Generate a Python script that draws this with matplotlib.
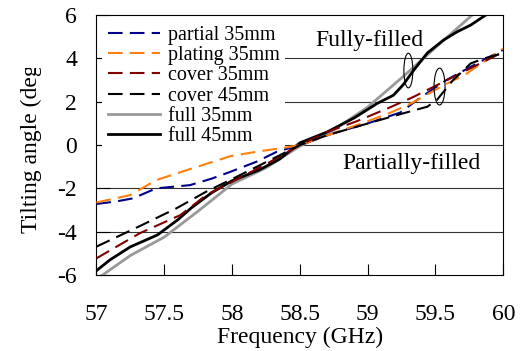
import numpy as np
import matplotlib
matplotlib.use("Agg")
import matplotlib.pyplot as plt
from matplotlib.patches import Ellipse, Rectangle

plt.rcParams['font.family'] = ['Liberation Serif', 'DejaVu Serif']

# -------------------------------------------------------------------------
# DATA
# -------------------------------------------------------------------------
f_partial35 = [57.0, 57.15, 57.27, 57.44, 57.69, 57.85, 57.99, 58.18, 58.33, 58.5,
               58.75, 59.0, 59.24, 59.38, 59.58, 59.8, 60.0]
v_partial35 = [-2.72, -2.6, -2.46, -2.0, -1.85, -1.55, -1.23, -0.77, -0.31, 0.0,
               0.55, 1.0, 1.5, 2.15, 3.0, 3.75, 4.4]

f_plating35 = [57.0, 57.25, 57.44, 57.67, 57.99, 58.18, 58.43, 58.5, 58.75, 59.0,
               59.17, 59.32, 59.54, 59.73, 60.0]
v_plating35 = [-2.65, -2.31, -1.62, -1.15, -0.51, -0.31, -0.08, 0.0, 0.55, 1.1,
               1.5, 1.92, 2.69, 3.3, 4.46]

f_cover35 = [57.0, 57.32, 57.62, 57.81, 58.0, 58.26, 58.5, 58.7, 58.92, 59.15,
             59.34, 59.56, 59.83, 60.0]
v_cover35 = [-5.23, -4.07, -3.23, -2.31, -1.7, -0.85, 0.0, 0.6, 1.1, 1.7,
             2.23, 2.92, 3.77, 4.3]

f_cover45 = [57.0, 57.32, 57.59, 57.81, 58.01, 58.33, 58.5, 58.7, 58.92, 59.17,
             59.34, 59.44, 59.51, 59.63, 59.76, 59.86, 60.0]
v_cover45 = [-4.69, -3.74, -2.92, -2.15, -1.54, -0.54, 0.0, 0.45, 0.85, 1.3,
             1.6, 1.77, 2.08, 3.0, 3.77, 4.0, 4.25]

f_full35 = [57.0, 57.25, 57.5, 57.75, 58.0, 58.25, 58.5, 58.75, 59.0, 59.25,
            59.5, 59.77, 60.0]
v_full35 = [-6.2, -5.1, -4.25, -3.05, -1.8, -1.05, -0.05, 0.7, 1.75, 3.1,
            4.5, 6.0, 7.2]

f_full45 = [57.0, 57.1, 57.25, 57.45, 57.6, 57.7, 57.85, 58.0, 58.2, 58.35,
            58.5, 58.7, 58.9, 59.07, 59.19, 59.26, 59.34, 59.44, 59.56, 59.66,
            59.76, 59.87, 60.0]
v_full45 = [-5.8, -5.3, -4.7, -4.15, -3.45, -2.9, -2.2, -1.65, -1.15, -0.65,
            0.1, 0.6, 1.25, 1.92, 2.3, 2.77, 3.46, 4.25, 4.85, 5.23,
            5.54, 6.0, 6.6]

x_ticks = [57, 57.5, 58, 58.5, 59, 59.5, 60]
x_tick_labels = ['57', '57.5', '58', '58.5', '59', '59.5', '60']
y_ticks = [-6, -4, -2, 0, 2, 4, 6]
y_tick_labels = ['-6', '-4', '-2', '0', '2', '4', '6']

# -------------------------------------------------------------------------
# PLOT
# -------------------------------------------------------------------------
fig = plt.figure(figsize=(5.27, 3.51), dpi=100)
ax = fig.add_axes([0.183, 0.2165, 0.772, 0.7405])

for yv in [-4, -2, 0, 2, 4]:
    ax.axhline(yv, color='#333333', lw=0.8, zorder=1)

dash = (7, 3.5)
ax.plot(f_partial35, v_partial35, color='#00008B', lw=1.5, dashes=dash, label='partial 35mm', zorder=3)
ax.plot(f_plating35, v_plating35, color='#FF7F0E', lw=1.5, dashes=dash, label='plating 35mm', zorder=3)
ax.plot(f_cover35, v_cover35, color='#800000', lw=1.5, dashes=dash, label='cover 35mm', zorder=3)
ax.plot(f_cover45, v_cover45, color='black', lw=1.5, dashes=dash, label='cover 45mm', zorder=3)
ax.plot(f_full35, v_full35, color='#999999', lw=2.0, label='full 35mm', zorder=2)
ax.plot(f_full45, v_full45, color='black', lw=2.0, label='full 45mm', zorder=2)

ax.add_patch(Ellipse((59.30, 3.44), 0.066, 1.6, fill=False, ec='black', lw=0.8, zorder=4))
ax.add_patch(Ellipse((59.53, 2.70), 0.081, 1.7, fill=False, ec='black', lw=0.8, zorder=4))

ax.text(59.01, 4.85, 'Fully-filled', fontsize=17, ha='center', va='center', zorder=5)
ax.text(59.32, -0.83, 'Partially-filled', fontsize=17, ha='center', va='center', zorder=5)

ax.set_xlim(57, 60)
ax.set_ylim(-6, 6)
ax.set_xticks(x_ticks)
ax.set_xticklabels(x_tick_labels)
ax.set_yticks(y_ticks)
ax.set_yticklabels(y_tick_labels)
ax.tick_params(axis='x', direction='in', length=8, pad=21, labelsize=17, top=False)
ax.tick_params(axis='y', direction='in', length=10, pad=14, labelsize=17, right=False)

ax.set_xlabel('Frequency (GHz)', fontsize=17, labelpad=1)
ylab = ax.set_ylabel('Tilting angle (deg)', fontsize=17, labelpad=11)
# the reference cuts the top of the y label off
ylab.set_clip_on(True)
ylab.set_clip_path(Rectangle((0, 0), 1, 0.805, transform=fig.transFigure))

leg = ax.legend(loc='upper left', fontsize=14.5, frameon=True, handlelength=2.6,
                handletextpad=0.4, labelspacing=0.05, borderaxespad=0.3,
                borderpad=0.25)
leg.get_frame().set_edgecolor('none')
leg.get_frame().set_facecolor('white')
leg.get_frame().set_alpha(1.0)
leg.set_zorder(2.5)

fig.savefig('out.png', dpi=100)
